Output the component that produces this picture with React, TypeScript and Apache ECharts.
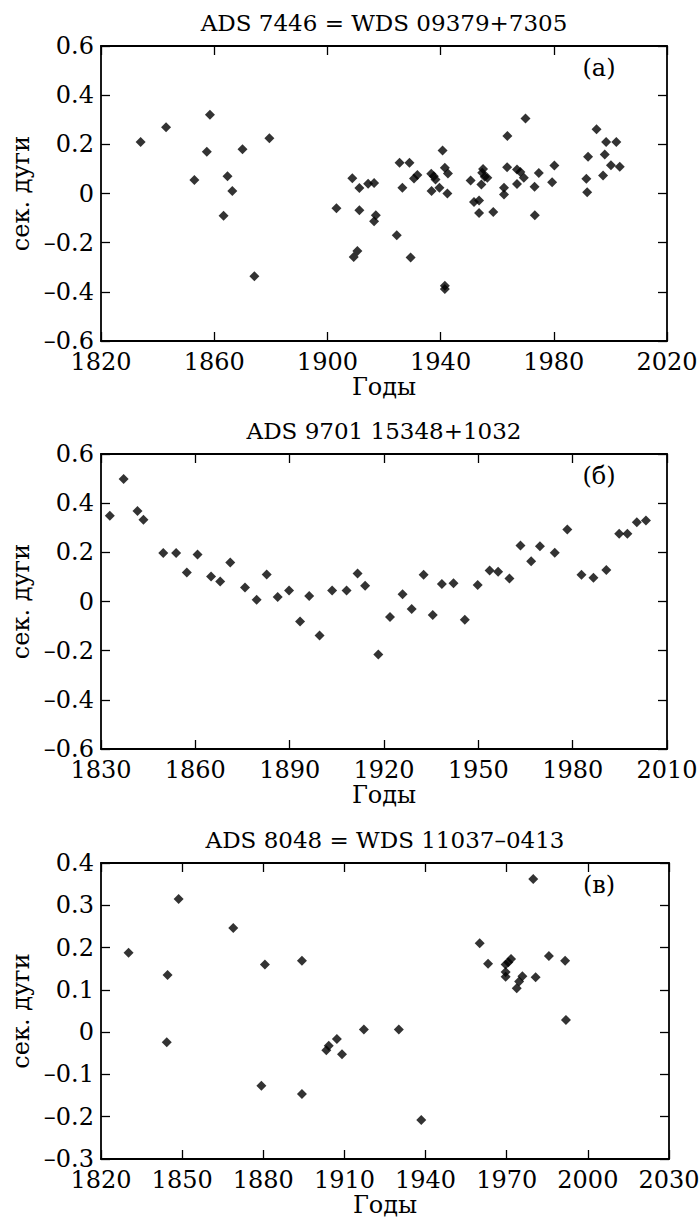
import React, { useEffect, useRef } from "react";
import * as echarts from "echarts";

const FONT = "DejaVu Serif";
const FS = 24;
const TITLE_FS = 23;

// Panel (а): ADS 7446 = WDS 09379+7305
const years1 = [
  1834, 1843, 1853, 1857.4, 1858.5, 1863.3, 1864.7, 1866.4, 1870, 1874.2, 1879.5,
  1903.2, 1908.8, 1911.3, 1911.3, 1909.3, 1910.6, 1914.4, 1916.5, 1917.1, 1916.5,
  1924.5, 1925.5, 1926.5, 1929, 1929.4, 1930.6, 1931.8, 1936.7, 1937.6, 1938.2,
  1936.8, 1939.6, 1940.7, 1941.5, 1942.6, 1942.4, 1941.5, 1941.5, 1950.6, 1951.8,
  1953.6, 1953.6, 1954.7, 1955, 1955.6, 1954.4, 1956.5, 1958.6, 1962.4, 1962.4,
  1963.6, 1963.5, 1967, 1968.2, 1969.4, 1967, 1970, 1973.2, 1973.3, 1974.7,
  1979.4, 1980.2, 1991.5, 1991.8, 1992.1, 1995.1, 1997.4, 1998, 1998.5, 2002.1,
  2000.2, 2003.3,
];
const values1 = [
  0.21, 0.27, 0.055, 0.17, 0.32, -0.09, 0.07, 0.01, 0.18, -0.337, 0.225,
  -0.06, 0.062, 0.022, -0.068, -0.258, -0.234, 0.04, 0.043, -0.088, -0.113,
  -0.17, 0.125, 0.023, 0.125, -0.26, 0.061, 0.075, 0.08, 0.07, 0.057,
  0.01, 0.023, 0.175, 0.105, 0.081, 0.0, -0.375, -0.388, 0.053, -0.035,
  -0.028, -0.079, 0.084, 0.1, 0.068, 0.037, 0.064, -0.075, 0.023, -0.004,
  0.234, 0.107, 0.098, 0.087, 0.064, 0.039, 0.305, 0.027, -0.088, 0.083,
  0.046, 0.114, 0.06, 0.005, 0.149, 0.261, 0.073, 0.159, 0.21, 0.21,
  0.115, 0.109,
];

// Panel (б): ADS 9701 15348+1032
const years2 = [
  1832.8, 1837.2, 1841.6, 1843.5, 1849.8, 1853.9, 1857.3, 1860.7, 1865, 1867.9,
  1871.1, 1875.8, 1879.5, 1882.7, 1886.2, 1889.8, 1893.3, 1896.2, 1899.5, 1903.5,
  1908.1, 1911.6, 1914, 1918.2, 1921.9, 1925.9, 1928.8, 1932.6, 1935.5, 1938.4,
  1942.1, 1945.7, 1949.8, 1953.6, 1956.3, 1959.9, 1963.4, 1966.8, 1969.6, 1974.3,
  1978.3, 1982.8, 1986.6, 1990.7, 1994.8, 1997.4, 2000.4, 2003.3,
];
const values2 = [
  0.349, 0.498, 0.368, 0.333, 0.197, 0.197, 0.118, 0.191, 0.102, 0.081,
  0.159, 0.057, 0.007, 0.11, 0.018, 0.045, -0.081, 0.022, -0.138, 0.045,
  0.045, 0.114, 0.064, -0.216, -0.063, 0.029, -0.031, 0.109, -0.055, 0.071,
  0.074, -0.074, 0.067, 0.126, 0.121, 0.094, 0.228, 0.164, 0.225, 0.198,
  0.293, 0.109, 0.097, 0.128, 0.276, 0.276, 0.322, 0.33,
];

// Panel (в): ADS 8048 = WDS 11037–0413
const years3 = [
  1830.2, 1844.6, 1844.3, 1848.7, 1868.9, 1880.6, 1879.3, 1894.3, 1894.3, 1903.3,
  1904.2, 1907.2, 1909.1, 1917.2, 1930.1, 1938.4, 1960, 1963.1, 1969.6, 1969.6,
  1969.6, 1970.6, 1971.6, 1973.7, 1974.6, 1975.8, 1979.8, 1980.7, 1985.6, 1991.6,
  1991.9,
];
const values3 = [
  0.188, 0.135, -0.024, 0.315, 0.246, 0.16, -0.127, 0.169, -0.146, -0.043,
  -0.032, -0.016, -0.052, 0.006, 0.006, -0.208, 0.21, 0.162, 0.16, 0.142,
  0.131, 0.165, 0.173, 0.104, 0.12, 0.132, 0.362, 0.13, 0.18, 0.169,
  0.029,
];

const titles = [
  "ADS 7446 = WDS 09379+7305",
  "ADS 9701 15348+1032",
  "ADS 8048 = WDS 11037–0413",
];
const panelLetters = ["(а)", "(б)", "(в)"];
const xTitle = "Годы";
const yTitle = "сек. дуги";

const xTicks1 = [1820, 1860, 1900, 1940, 1980, 2020];
const xTicks2 = [1830, 1860, 1890, 1920, 1950, 1980, 2010];
const xTicks3 = [1820, 1850, 1880, 1910, 1940, 1970, 2000, 2030];
const yTicks1 = [-0.6, -0.4, -0.2, 0, 0.2, 0.4, 0.6];
const yTicks2 = [-0.6, -0.4, -0.2, 0, 0.2, 0.4, 0.6];
const yTicks3 = [-0.3, -0.2, -0.1, 0, 0.1, 0.2, 0.3, 0.4];

const panels = [
  { years: years1, values: values1, xTicks: xTicks1, yTicks: yTicks1, top: 46, height: 295, right: 33 },
  { years: years2, values: values2, xTicks: xTicks2, yTicks: yTicks2, top: 454, height: 295, right: 33 },
  { years: years3, values: values3, xTicks: xTicks3, yTicks: yTicks3, top: 863, height: 296, right: 31 },
];

const LEFT = 101;
const W = 700;

function fmtY(v: number): string {
  const r = Math.round(v * 10) / 10;
  if (r === 0) return "0";
  return r < 0 ? "–" + Math.abs(r).toFixed(1) : r.toFixed(1);
}
function fmtX(v: number): string {
  return String(Math.round(v));
}

export default function App() {
  const ref = useRef<HTMLDivElement>(null);
  useEffect(() => {
    if (!ref.current) return;
    const chart = echarts.init(ref.current, null, { renderer: "svg" });
    const lineStyle = { color: "#000", width: 1.8 };
    const tickStyle = { color: "#000", width: 1.3 };
    const labelStyle = { fontSize: FS, fontFamily: FONT, color: "#000" };

    const grids: any[] = [];
    const xAxes: any[] = [];
    const yAxes: any[] = [];
    const series: any[] = [];
    const graphics: any[] = [];

    panels.forEach((p, i) => {
      grids.push({
        left: LEFT,
        right: p.right,
        top: p.top,
        height: p.height,
        containLabel: false,
        outerBoundsMode: "none",
      });
      const xMin = p.xTicks[0];
      const xMax = p.xTicks[p.xTicks.length - 1];
      const yMin = p.yTicks[0];
      const yMax = p.yTicks[p.yTicks.length - 1];
      xAxes.push({
        type: "value",
        gridIndex: i,
        position: "bottom",
        min: xMin,
        max: xMax,
        axisLine: { show: true, onZero: false, lineStyle },
        axisTick: { show: true, inside: true, length: 9, customValues: p.xTicks, lineStyle: tickStyle },
        axisLabel: { ...labelStyle, lineHeight: 18, margin: 12, customValues: p.xTicks, formatter: fmtX },
        splitLine: { show: false },
        name: xTitle,
        nameLocation: "middle",
        nameGap: 34,
        nameTextStyle: { ...labelStyle, lineHeight: 24 },
      });
      xAxes.push({
        type: "value",
        gridIndex: i,
        position: "top",
        min: xMin,
        max: xMax,
        axisLine: { show: true, onZero: false, lineStyle },
        axisTick: { show: true, inside: true, length: 9, customValues: p.xTicks, lineStyle: tickStyle },
        axisLabel: { show: false },
        splitLine: { show: false },
      });
      yAxes.push({
        type: "value",
        gridIndex: i,
        position: "left",
        min: yMin,
        max: yMax,
        axisLine: { show: true, onZero: false, lineStyle },
        axisTick: { show: true, inside: true, length: 9, customValues: p.yTicks, lineStyle: tickStyle },
        axisLabel: {
          ...labelStyle,
          lineHeight: 18,
          margin: 7,
          padding: [0, 0, 8, 0],
          customValues: p.yTicks,
          formatter: fmtY,
        },
        splitLine: { show: false },
        name: yTitle,
        nameLocation: "middle",
        nameGap: 63,
        nameTextStyle: { ...labelStyle, lineHeight: 24 },
      });
      yAxes.push({
        type: "value",
        gridIndex: i,
        position: "right",
        min: yMin,
        max: yMax,
        axisLine: { show: true, onZero: false, lineStyle },
        axisTick: { show: true, inside: true, length: 9, customValues: p.yTicks, lineStyle: tickStyle },
        axisLabel: { show: false },
        splitLine: { show: false },
      });
      series.push({
        type: "scatter",
        xAxisIndex: 2 * i,
        yAxisIndex: 2 * i,
        symbol: "diamond",
        symbolSize: 10,
        itemStyle: { color: "#000" },
        data: p.years.map((y, k) => [y, p.values[k]]),
      });
      const plotCenter = LEFT + (W - LEFT - p.right) / 2;
      graphics.push({
        type: "text",
        x: plotCenter,
        y: p.top - 23,
        style: {
          text: titles[i],
          fontSize: TITLE_FS,
          fontFamily: FONT,
          fill: "#000",
          align: "center",
          verticalAlign: "middle",
          textAlign: "center",
          textVerticalAlign: "middle",
        },
      });
      graphics.push({
        type: "text",
        x: 599,
        y: p.top + 22,
        style: {
          text: panelLetters[i],
          fontSize: FS,
          fontFamily: FONT,
          fill: "#000",
          align: "center",
          verticalAlign: "middle",
          textAlign: "center",
          textVerticalAlign: "middle",
        },
      });
    });

    chart.setOption({
      animation: false,
      backgroundColor: "#fff",
      textStyle: { fontFamily: FONT },
      grid: grids,
      xAxis: xAxes,
      yAxis: yAxes,
      series,
      graphic: graphics,
    });
    return () => chart.dispose();
  }, []);
  return (
    <div
      ref={ref}
      style={{ position: "fixed", left: 0, top: 0, width: 700, height: 1223, background: "#fff", fontFamily: FONT }}
    />
  );
}
